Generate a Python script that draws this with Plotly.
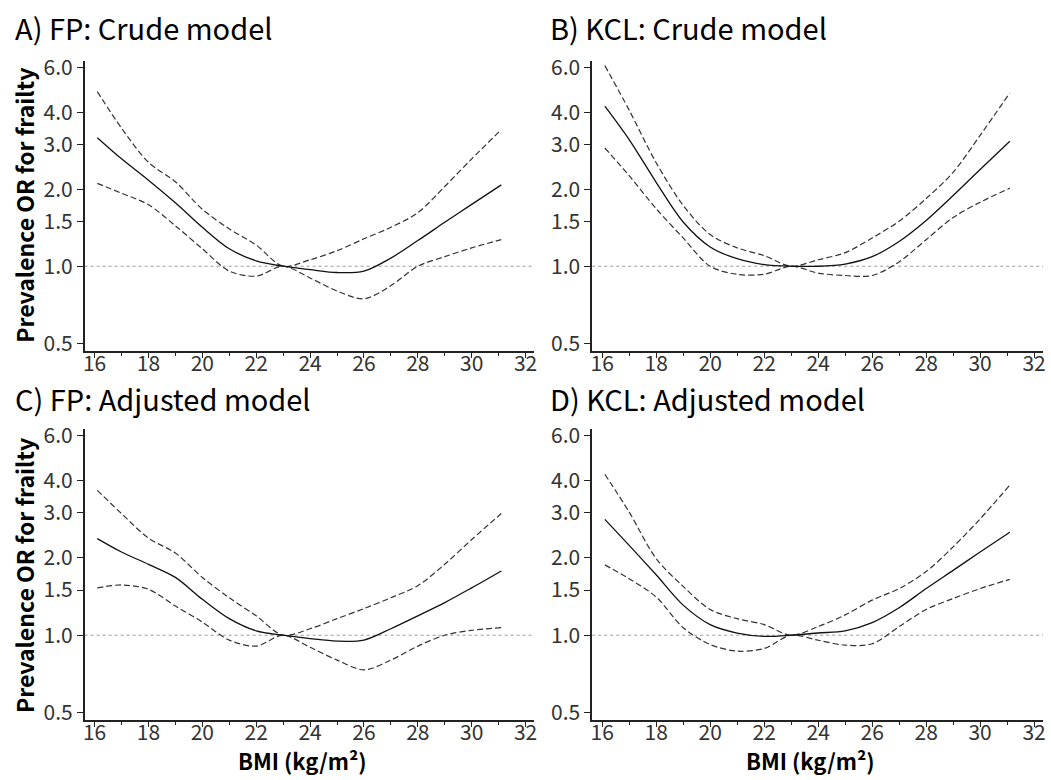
import plotly.graph_objects as go

# ---------------- data ----------------
BMI = [16.1, 17, 18, 19, 20, 21, 22, 23, 24, 25, 26, 27, 28, 29, 30, 31.1]

A_or = [3.18, 2.63, 2.17, 1.77, 1.42, 1.17, 1.05, 1.00, 0.97, 0.945, 0.957, 1.076, 1.26, 1.485, 1.745, 2.08]
A_hi = [4.82, 3.47, 2.55, 2.14, 1.67, 1.40, 1.21, 1.00, 1.06, 1.15, 1.28, 1.42, 1.62, 2.05, 2.63, 3.42]
A_lo = [2.11, 1.93, 1.74, 1.44, 1.17, 0.957, 0.915, 1.00, 0.90, 0.80, 0.746, 0.84, 1.00, 1.09, 1.18, 1.27]

B_or = [4.23, 3.13, 2.13, 1.49, 1.19, 1.07, 1.015, 1.00, 1.00, 1.02, 1.09, 1.25, 1.51, 1.89, 2.39, 3.08]
B_hi = [6.09, 4.08, 2.54, 1.73, 1.33, 1.18, 1.10, 1.00, 1.06, 1.13, 1.29, 1.50, 1.84, 2.33, 3.25, 4.76]
B_lo = [2.90, 2.26, 1.68, 1.29, 1.00, 0.93, 0.93, 1.00, 0.94, 0.92, 0.92, 1.04, 1.27, 1.55, 1.78, 2.02]

C_or = [2.38, 2.11, 1.89, 1.68, 1.38, 1.16, 1.04, 1.00, 0.97, 0.948, 0.957, 1.06, 1.19, 1.34, 1.53, 1.78]
C_hi = [3.67, 2.98, 2.39, 2.09, 1.68, 1.40, 1.19, 1.00, 1.06, 1.16, 1.27, 1.40, 1.56, 1.89, 2.36, 2.98]
C_lo = [1.53, 1.57, 1.51, 1.30, 1.125, 0.957, 0.907, 1.00, 0.897, 0.80, 0.733, 0.80, 0.907, 1.00, 1.045, 1.07]

D_or = [2.83, 2.24, 1.72, 1.31, 1.10, 1.02, 0.99, 1.00, 1.02, 1.04, 1.12, 1.28, 1.52, 1.79, 2.11, 2.52]
D_hi = [4.24, 3.02, 1.99, 1.55, 1.26, 1.16, 1.10, 1.00, 1.08, 1.20, 1.37, 1.52, 1.77, 2.21, 2.84, 3.85]
D_lo = [1.88, 1.66, 1.41, 1.07, 0.92, 0.867, 0.888, 1.00, 0.956, 0.915, 0.926, 1.08, 1.26, 1.39, 1.52, 1.65]

PANEL_TITLES = ["A) FP: Crude model", "B) KCL: Crude model",
                "C) FP: Adjusted model", "D) KCL: Adjusted model"]
Y_TICKS = [0.5, 1.0, 1.5, 2.0, 3.0, 4.0, 6.0]
Y_TICK_TEXT = ["0.5", "1.0", "1.5", "2.0", "3.0", "4.0", "6.0"]
X_TICKS = [16, 18, 20, 22, 24, 26, 28, 30, 32]
Y_TITLE = "Prevalence OR for frailty"
X_TITLE = "BMI (kg/m²)"

# ---------------- layout ----------------
W, H = 1051, 780
FONT = "Noto Sans CJK JP"

panels = [
    (A_or, A_hi, A_lo),
    (B_or, B_hi, B_lo),
    (C_or, C_hi, C_lo),
    (D_or, D_hi, D_lo),
]
# pixel boxes (left, right, top, bottom)
boxes = [
    (83, 535, 52, 348),
    (593, 1046, 52, 348),
    (83, 535, 428, 725),
    (593, 1046, 428, 725),
]

fig = go.Figure()
for i, ((orv, hi, lo), (l, r, t, b)) in enumerate(zip(panels, boxes)):
    n = i + 1
    xa = "x" if n == 1 else f"x{n}"
    ya = "y" if n == 1 else f"y{n}"
    for vals, dash, col, wid in [(hi, "6px,3px", "#333333", 1.2),
                                 (lo, "6px,3px", "#333333", 1.2),
                                 (orv, "solid", "#111111", 1.3)]:
        fig.add_trace(go.Scatter(x=BMI, y=vals, mode="lines", xaxis=xa, yaxis=ya,
                                 line=dict(color=col, width=wid, dash=dash, shape="spline", smoothing=0.9),
                                 showlegend=False, hoverinfo="skip"))
    xkey = "xaxis" if n == 1 else f"xaxis{n}"
    ykey = "yaxis" if n == 1 else f"yaxis{n}"
    fig.update_layout({
        xkey: dict(domain=[l / W, r / W], anchor=ya, range=[15.63, 32.33],
                   tickvals=X_TICKS, ticks="outside", ticklen=5, tickwidth=1.2, tickcolor="#222",
                   ticklabelstandoff=-12,
                   showline=True, linecolor="#222", linewidth=1.5, showgrid=False, zeroline=False,
                   tickfont=dict(family=FONT, size=21, color="#333"),
                   minor=dict(tickvals=[17, 19, 21, 23, 25, 27, 29, 31], ticks="outside",
                              ticklen=3, tickcolor="#222", showgrid=False)),
        ykey: dict(domain=[1 - b / H, 1 - t / H], anchor=xa, type="log",
                   range=[-0.331, 0.803],
                   tickvals=Y_TICKS, ticktext=Y_TICK_TEXT, ticks="outside", ticklen=6,
                   tickwidth=1.2, tickcolor="#222",
                   showline=True, linecolor="#222", linewidth=1.5, showgrid=False, zeroline=False,
                   tickfont=dict(family=FONT, size=21, color="#333")),
    })
    fig.add_shape(type="line", xref=f"{xa} domain", yref=ya, x0=0, x1=1, y0=1, y1=1,
                  line=dict(color="#9a9a9a", width=1, dash="dot"), layer="below")
    # panel title
    fig.add_annotation(text=PANEL_TITLES[i], xref="paper", yref="paper",
                       x=(11 if l < 300 else 549) / W, y=1 - (17 if t < 300 else 396) / H,
                       xanchor="left", yanchor="middle", showarrow=False,
                       font=dict(family=FONT, size=29, color="#000"))

# y axis titles (left column)
for yc in (199, 577):
    fig.add_annotation(text=f"<b>{Y_TITLE}</b>", xref="paper", yref="paper",
                       x=22 / W, y=1 - yc / H, textangle=-90, showarrow=False,
                       xanchor="center", yanchor="middle",
                       font=dict(family=FONT, size=23, color="#000"))
# x axis titles (bottom row)
for xc in (302, 812):
    fig.add_annotation(text=f"<b>{X_TITLE}</b>", xref="paper", yref="paper",
                       x=xc / W, y=1 - 766 / H, showarrow=False,
                       xanchor="center", yanchor="middle",
                       font=dict(family=FONT, size=22, color="#000"))

fig.update_layout(width=W, height=H, margin=dict(l=0, r=0, t=0, b=0),
                  plot_bgcolor="white", paper_bgcolor="white")

fig.write_html("out.html")
